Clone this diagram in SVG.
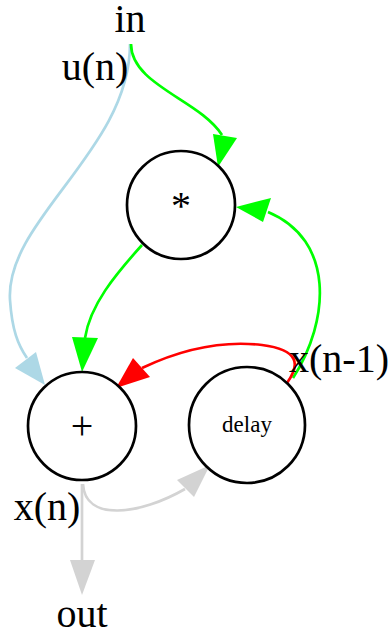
<svg xmlns="http://www.w3.org/2000/svg" width="391" height="636" viewBox="0 0 391 636">
<style>
.n{fill:#fff;stroke:#000;stroke-width:2.7}
.t{font-family:"Liberation Serif",serif;fill:#000;text-anchor:middle}
.e{fill:none;stroke-width:2.7}
</style>
<rect width="391" height="636" fill="#fff"/>
<g id="connectors">
<path class="e" stroke="#add8e6" d="M130,44 C130,150 5,220 10,300 C12,330 18,345 27,358"/>
<polygon fill="#add8e6" points="15,368 36,352 45,385"/>
<path class="e" stroke="#00ff00" d="M131,44 C131,85 200,100 222,135"/>
<polygon fill="#00ff00" points="213,134 237,138 218,167"/>
<path class="e" stroke="#00ff00" d="M142,245 C115,275 90,305 85,338"/>
<polygon fill="#00ff00" points="72,337 98,338 82,372"/>
<path class="e" stroke="#00ff00" d="M293,378 C330,320 335,240 268,212"/>
<polygon fill="#00ff00" points="271,198 263,222 236,207"/>
<path class="e" stroke="#ff0000" d="M287,383 C300,365 300,350 262,345 C220,340 180,350 142,368"/>
<polygon fill="#ff0000" points="133,358 150,377 116,388"/>
<path class="e" stroke="#d3d3d3" d="M83,484 C85,522 140,515 185,489"/>
<polygon fill="#d3d3d3" points="177,480 194,497 210,465"/>
<path class="e" stroke="#d3d3d3" d="M82,484 L82,560"/>
<polygon fill="#d3d3d3" points="70,560 95,560 82,595"/>
</g>
<g id="in"><text class="t" x="130" y="32" font-size="40">in</text></g>
<g id="out"><text class="t" x="82" y="627" font-size="40">out</text></g>
<g id="mul"><circle class="n" cx="181" cy="205" r="54"/><text class="t" x="181" y="219" font-size="40">*</text></g>
<g id="add"><circle class="n" cx="82" cy="426" r="54"/><text class="t" x="82" y="439" font-size="40">+</text></g>
<g id="delay"><circle class="n" cx="247" cy="425" r="58"/><text class="t" x="247" y="432" font-size="23">delay</text></g>
<g id="labels">
<text class="t" x="95" y="80" font-size="40">u(n)</text>
<text class="t" x="339" y="372" font-size="40">x(n-1)</text>
<text class="t" x="47" y="520" font-size="40">x(n)</text>
</g>
</svg>
